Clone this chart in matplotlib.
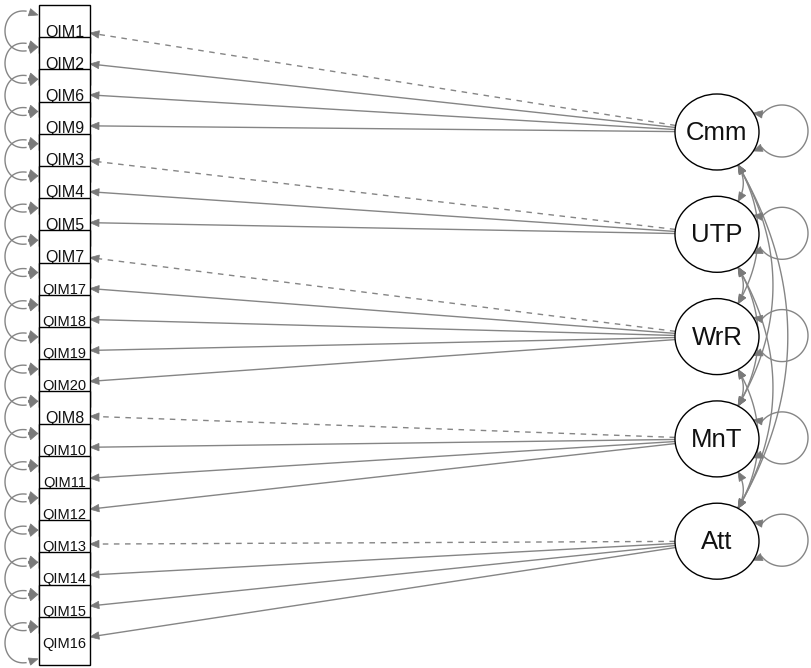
import itertools
import matplotlib
matplotlib.use('Agg')
import matplotlib.pyplot as plt
import numpy as np
from matplotlib.patches import Rectangle, Ellipse, Polygon

# observed indicators, top to bottom
manifest = ['QIM1', 'QIM2', 'QIM6', 'QIM9', 'QIM3', 'QIM4', 'QIM5', 'QIM7',
            'QIM17', 'QIM18', 'QIM19', 'QIM20', 'QIM8', 'QIM10', 'QIM11', 'QIM12',
            'QIM13', 'QIM14', 'QIM15', 'QIM16']
# latent factors
latent = ['Cmm', 'UTP', 'WrR', 'MnT', 'Att']
# factor each indicator loads on
loads_on = [0, 0, 0, 0, 1, 1, 1, 2, 2, 2, 2, 2, 3, 3, 3, 3, 4, 4, 4, 4]
# fixed (marker) loadings are drawn dashed
fixed = [1, 0, 0, 0, 1, 0, 0, 1, 0, 0, 0, 0, 1, 0, 0, 0, 1, 0, 0, 0]

W, H = 812, 668
EDGE = '#858585'
HEAD = '#7a7a7a'

# layout in pixels
box_x, box_hw, box_hh = 64.5, 25.5, 24
man_y0, man_dy = 29, 32.2
lat_x, lat_rx, lat_ry = 717, 42, 38
lat_y0, lat_dy = 132, 102.3


def head(ax, tip, d, L=9, Wd=7.5, z=3):
    d = np.asarray(d, float)
    d = d / np.hypot(*d)
    n = np.array([-d[1], d[0]])
    tip = np.asarray(tip, float)
    base = tip - d * L
    ax.add_patch(Polygon([tip, base + n * Wd / 2, base - n * Wd / 2], closed=True,
                         fc=HEAD, ec=HEAD, lw=0.5, zorder=z))
    return base


fig = plt.figure(figsize=(W / 100, H / 100), dpi=100)
ax = fig.add_axes([0, 0, 1, 1])
ax.set_xlim(0, W)
ax.set_ylim(H, 0)
ax.axis('off')

man_y = man_y0 + man_dy * np.arange(len(manifest))
lat_y = lat_y0 + lat_dy * np.arange(len(latent))

# factor loadings
for i, f in enumerate(loads_on):
    cx, cy = lat_x, lat_y[f]
    tx, ty = box_x, man_y[i]
    dx, dy = tx - cx, ty - cy
    t = 1 / np.sqrt((dx / lat_rx) ** 2 + (dy / lat_ry) ** 2)
    start = np.array([cx + t * dx, cy + t * dy])
    s = min(box_hw / abs(dx), box_hh / abs(dy) if dy else 1e9)
    tip = np.array([tx - s * dx, ty - s * dy])
    base = head(ax, tip, tip - start)
    ls = (0, (4, 4)) if fixed[i] else '-'
    ax.plot([start[0], base[0]], [start[1], base[1]], color=EDGE, lw=1.0,
            linestyle=ls, zorder=2)

# residual variances of indicators
for y in man_y:
    yc = y + 2
    p0 = np.array([38, yc - 16])
    p1 = np.array([-6, yc - 38])
    p2 = np.array([-6, yc + 38])
    p3 = np.array([38, yc + 16])
    t = np.linspace(0, 1, 60)[:, None]
    curve = ((1 - t) ** 3 * p0 + 3 * (1 - t) ** 2 * t * p1
             + 3 * (1 - t) * t ** 2 * p2 + t ** 3 * p3)
    ax.plot(curve[6:-6, 0], curve[6:-6, 1], color=EDGE, lw=1.0, zorder=2)
    head(ax, p0, p0 - curve[6])
    head(ax, p3, p3 - curve[-7])

# latent covariances
ang = np.deg2rad(60)
for a, b in itertools.combinations(range(len(latent)), 2):
    p0 = np.array([lat_x + lat_rx * np.cos(ang), lat_y[a] + lat_ry * np.sin(ang)])
    p2 = np.array([lat_x + lat_rx * np.cos(ang), lat_y[b] - lat_ry * np.sin(ang)])
    d = p2[1] - p0[1]
    c = np.array([p0[0] + 0.29 * d, (p0[1] + p2[1]) / 2])
    t = np.linspace(0, 1, 80)[:, None]
    curve = (1 - t) ** 2 * p0 + 2 * (1 - t) * t * c + t ** 2 * p2
    head(ax, p0, p0 - c)
    head(ax, p2, p2 - c)
    keep = (np.hypot(*(curve - p0).T) > 9) & (np.hypot(*(curve - p2).T) > 9)
    ax.plot(curve[keep, 0], curve[keep, 1], color=EDGE, lw=1.0, zorder=2)

# latent variances
for y in lat_y:
    lc = np.array([lat_x + 65, y - 1])
    th = np.deg2rad(np.linspace(-140, 140, 120))
    ax.plot(lc[0] + 26 * np.cos(th), lc[1] + 26 * np.sin(th), color=EDGE, lw=1.0, zorder=2)
    for sgn in (-1, 1):
        phi = np.deg2rad(30) * sgn
        tip = np.array([lat_x + lat_rx * np.cos(phi), y + lat_ry * np.sin(phi)])
        end = lc + 26 * np.array([np.cos(np.deg2rad(140)), sgn * np.sin(np.deg2rad(140))])
        head(ax, tip, tip - end)

# indicator boxes (each drawn over the previous one)
for i, (name, y) in enumerate(zip(manifest, man_y)):
    ax.add_patch(Rectangle((box_x - box_hw, y - box_hh), 2 * box_hw, 2 * box_hh,
                           fc='white', ec='black', lw=1.0, zorder=4 + i * 0.01))
    fs = 11.5 if len(name) < 5 else 10.5
    ax.text(box_x, y + 3, name, ha='center', va='center', fontsize=fs,
            family='Liberation Sans', color='#111111', zorder=4 + i * 0.01 + 0.005)

# factor nodes
for name, y in zip(latent, lat_y):
    ax.add_patch(Ellipse((lat_x, y), 2 * lat_rx, 2 * lat_ry, fc='white', ec='black',
                         lw=1.0, zorder=5))
    ax.text(lat_x, y + 1, name, ha='center', va='center', fontsize=18.5,
            family='Liberation Sans', color='#111111', zorder=6)

fig.savefig('out.png', dpi=100)
